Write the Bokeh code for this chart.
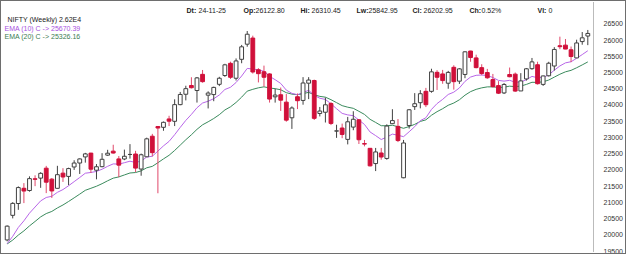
from bokeh.plotting import figure
from bokeh.layouts import column
from bokeh.models import Range1d, FixedTicker, Label, ColumnDataSource
from bokeh.embed import file_html
from bokeh.resources import INLINE

# Weekly NIFTY candles
opens = [19844, 20601, 20965, 21434, 21365, 21727, 21747, 22053, 21716, 21433,
         21900, 21800, 22090, 22212, 22400, 22517, 21990, 22100, 22455, 22578,
         22339, 22336, 22475, 22489, 22027, 22404, 23038, 23337, 23312, 23570,
         23497, 24010, 24330, 24600, 24445, 24943, 24302, 24320, 24636, 24907,
         25283, 24823, 25406, 25872, 26061, 25084, 25023, 24956, 24251, 24315,
         24087, 23605, 24254, 24140, 24671, 24753, 23738, 23776, 24045, 23195,
         23290, 22940, 23319, 23543, 22810, 22665, 22195, 22521, 22353, 23424,
         23341, 21758, 23368, 23949, 24070, 24420, 24420, 25005, 24956, 24670,
         25160, 24733, 24940, 25661, 25450, 25150, 24999, 24782, 24596, 24371,
         24938, 24950, 24432, 24802, 25118, 25239, 24634, 24899, 25200, 25824,
         25843, 25700, 25450, 25952, 26122.80]
highs = [20291, 21006, 21492, 21593, 21801, 21834, 21929, 22124, 21750, 22126,
         22053, 22068, 22297, 22353, 22525, 22526, 22180, 22516, 22619, 22775,
         22427, 22625, 22794, 22588, 22502, 22993, 23110, 23338, 23490, 23667,
         24174, 24401, 24592, 24854, 24861, 25078, 24420, 24563, 24867, 25268,
         25333, 25433, 25849, 26277, 26134, 25134, 25212, 24978, 24499, 24537,
         24336, 23956, 24354, 24857, 24857, 24781, 23939, 24226, 24089, 23391,
         23426, 23632, 23807, 23568, 22923, 22668, 22677, 22677, 23403, 23869,
         23566, 22923, 23873, 24365, 24457, 24526, 25116, 25071, 25080, 25050,
         25223, 25137, 25654, 25669, 25549, 25255, 25111, 24956, 24734, 24674,
         25153, 25000, 24980, 25139, 25448, 25332, 24904, 25330, 25781, 26104,
         26032, 25800, 26010, 26246, 26310.45]
lows = [19800, 20507, 20770, 20977, 21330, 21500, 21448, 21285, 21137, 21429,
        21630, 21530, 22000, 21875, 22224, 21905, 21710, 22080, 22428, 22503,
        21777, 22300, 22348, 21932, 21821, 22404, 22417, 21281, 23206, 23350,
        23350, 23992, 24141, 24508, 24074, 24686, 23893, 24116, 24581, 24866,
        24801, 24753, 25285, 25794, 24967, 24694, 24567, 24074, 24073, 23816,
        23484, 23263, 23873, 24008, 24180, 23537, 23647, 23460, 23380, 22987,
        22976, 22786, 23222, 22798, 22725, 22105, 21964, 22314, 22314, 23412,
        22857, 21743, 23273, 23847, 23896, 23935, 24378, 24462, 24653, 24500,
        24473, 24648, 24824, 25331, 25129, 24918, 24806, 24535, 24337, 24337,
        24852, 24404, 24432, 24751, 25084, 24629, 24588, 24877, 25060, 25718,
        25718, 25318, 25449, 25856, 25842.95]
closes = [20268, 20969, 21456, 21349, 21731, 21710, 21894, 21622, 21352, 21853,
          21782, 22041, 22212, 22338, 22493, 22023, 22097, 22327, 22514, 22519,
          22147, 22420, 22476, 22055, 22466, 22957, 22531, 23290, 23465, 23501,
          24010, 24323, 24502, 24531, 24834, 24718, 24367, 24541, 24823, 25236,
          24852, 25356, 25791, 26179, 25015, 24964, 24854, 24181, 24305, 24148,
          23533, 23907, 24131, 24677, 24768, 23588, 23813, 24005, 23432, 23203,
          23092, 23482, 23560, 22929, 22795, 22125, 22553, 22397, 23350, 23519,
          22904, 22829, 23852, 24039, 24347, 24008, 25020, 24853, 24751, 25003,
          24718, 25112, 25637, 25461, 25150, 24968, 24837, 24565, 24363, 24631,
          24870, 24427, 24741, 25114, 25327, 24655, 24894, 25285, 25710, 25795,
          25722, 25492, 25910, 26068, 26202.95]
ema10 = [19730, 19955, 20228, 20432, 20668, 20857, 21046, 21151, 21188, 21309,
         21395, 21512, 21639, 21766, 21898, 21921, 21953, 22021, 22111, 22185,
         22178, 22222, 22268, 22229, 22272, 22397, 22421, 22579, 22740, 22878,
         23084, 23309, 23526, 23709, 23914, 24060, 24116, 24193, 24308, 24477,
         24545, 24692, 24892, 25126, 25106, 25080, 25039, 24883, 24778, 24663,
         24458, 24358, 24317, 24382, 24452, 24295, 24207, 24170, 24036, 23885,
         23741, 23694, 23670, 23535, 23400, 23168, 23056, 22936, 23011, 23103,
         23067, 23024, 23175, 23332, 23517, 23606, 23863, 24043, 24172, 24323,
         24395, 24525, 24727, 24860, 24913, 24923, 24907, 24845, 24757, 24734,
         24759, 24699, 24707, 24781, 24880, 24839, 24849, 24928, 25070, 25202,
         25297, 25332, 25437, 25552, 25670.39]
ema20 = [19720, 19839, 19993, 20122, 20275, 20412, 20553, 20655, 20721, 20829,
         20920, 21027, 21140, 21254, 21372, 21434, 21497, 21576, 21665, 21746,
         21784, 21845, 21905, 21919, 21971, 22065, 22109, 22221, 22339, 22450,
         22599, 22763, 22929, 23082, 23249, 23389, 23482, 23583, 23701, 23847,
         23943, 24078, 24241, 24426, 24482, 24528, 24559, 24523, 24502, 24468,
         24379, 24334, 24315, 24349, 24389, 24313, 24265, 24240, 24163, 24072,
         23979, 23932, 23897, 23805, 23709, 23558, 23462, 23361, 23360, 23375,
         23330, 23282, 23336, 23403, 23493, 23542, 23683, 23794, 23885, 23991,
         24060, 24160, 24301, 24411, 24481, 24527, 24557, 24558, 24539, 24548,
         24579, 24565, 24582, 24633, 24699, 24695, 24714, 24768, 24858, 24947,
         25021, 25066, 25146, 25234, 25326.16]
y_ticks = [19500, 20000, 20500, 21000, 21500, 22000, 22500, 23000, 23500,
           24000, 24500, 25000, 25500, 26000, 26500]
header_keys = ["Dt:", "Op:", "Hi:", "Lw:", "Cl:", "Ch:", "Vl:"]
header_vals = ["24-11-25", "26122.80", "26310.45", "25842.95", "26202.95", "0.52%", "0"]
legend_texts = ["NIFTY (Weekly) 2.62E4", "EMA (10) C -> 25670.39", "EMA (20) C -> 25326.16"]

FONT = "Liberation Sans"
UP_LINE = "#404040"
DOWN = "#d0103a"
DOWN_WICK = "#e0486a"
EMA10_C = "#b866e8"
EMA20_C = "#3a8a5c"

n = len(closes)
idx = list(range(n))

def build(sel):
    ii = [i for i in idx if sel(i)]
    return ColumnDataSource(dict(
        x=ii,
        top=[max(opens[i], closes[i]) for i in ii],
        bottom=[min(opens[i], closes[i]) for i in ii],
        high=[highs[i] for i in ii],
        low=[lows[i] for i in ii],
    ))

up_src = build(lambda i: closes[i] >= opens[i])
dn_src = build(lambda i: closes[i] < opens[i])

# canvas sits inside a 1px border: canvas x 1..625, y 1..253
OFF = 1
W, H = 624, 252
FL, FR, FT, FB = 1, 26, 1, 2   # frame: canvas x 2..599, y 2..251 (page coords)
p = figure(width=W, height=H, output_backend="svg", toolbar_location=None,
           x_range=Range1d(-0.833, 105.02), y_range=Range1d(19487, 27156),
           x_axis_location=None, y_axis_location="right",
           min_border_left=FL, min_border_right=FR,
           min_border_top=FT, min_border_bottom=FB)
p.grid.visible = False
p.outline_line_color = None
p.background_fill_color = "white"
p.border_fill_color = "white"

ax = p.yaxis[0]
ax.ticker = FixedTicker(ticks=y_ticks)
ax.major_label_text_font = FONT
ax.major_label_text_font_size = "7px"
ax.major_label_text_color = "#333333"
ax.axis_line_color = "#777777"
ax.axis_line_dash = "1 1"
ax.major_tick_line_color = None
ax.minor_tick_line_color = None
ax.major_label_standoff = 4

# EMA lines
p.line(idx, ema20, line_color=EMA20_C, line_width=1)
p.line(idx, ema10, line_color=EMA10_C, line_width=1)

# wicks
p.segment(x0="x", y0="low", x1="x", y1="high", source=up_src, line_color=UP_LINE, line_width=1)
p.segment(x0="x", y0="low", x1="x", y1="high", source=dn_src, line_color=DOWN_WICK, line_width=1)
# bodies
p.vbar(x="x", top="top", bottom="bottom", width=0.68, source=up_src,
       fill_color="white", line_color=UP_LINE, line_width=1)
p.vbar(x="x", top="top", bottom="bottom", width=0.68, source=dn_src,
       fill_color=DOWN, line_color=DOWN, line_width=1)

# screen positions (page pixel coords -> frame-relative screen units)
def sx(cx):
    return cx - OFF - FL
def sy(cy):
    return (H - FB + OFF) - cy

# header
key_x = [186, 243, 300, 356, 412, 469, 537]
val_x = [198, 255, 311, 368, 423, 481, 548]
for k, v, kx, vx in zip(header_keys, header_vals, key_x, val_x):
    p.add_layout(Label(x=sx(kx), y=sy(10), x_units="screen", y_units="screen", text=k,
                       text_font=FONT, text_font_size="7px", text_font_style="bold",
                       text_color="#222222", text_baseline="middle"))
    p.add_layout(Label(x=sx(vx), y=sy(10), x_units="screen", y_units="screen", text=v,
                       text_font=FONT, text_font_size="7px",
                       text_color="#222222", text_baseline="middle"))

# legend
leg_colors = ["#222222", "#a84fe0", "#3d7d52"]
leg_x = [7, 4, 4]
leg_y = [19, 27.5, 36]
for t, c, lx, ly in zip(legend_texts, leg_colors, leg_x, leg_y):
    p.add_layout(Label(x=sx(lx), y=sy(ly), x_units="screen", y_units="screen", text=t,
                       text_font=FONT, text_font_size="7px",
                       text_color=c, text_baseline="middle"))

layout = column(p, width=626, height=254,
                styles={"border": "1px solid #6e6e6e", "box-sizing": "border-box",
                        "background-color": "white"})

open("out.html", "w").write(file_html(layout, INLINE))
